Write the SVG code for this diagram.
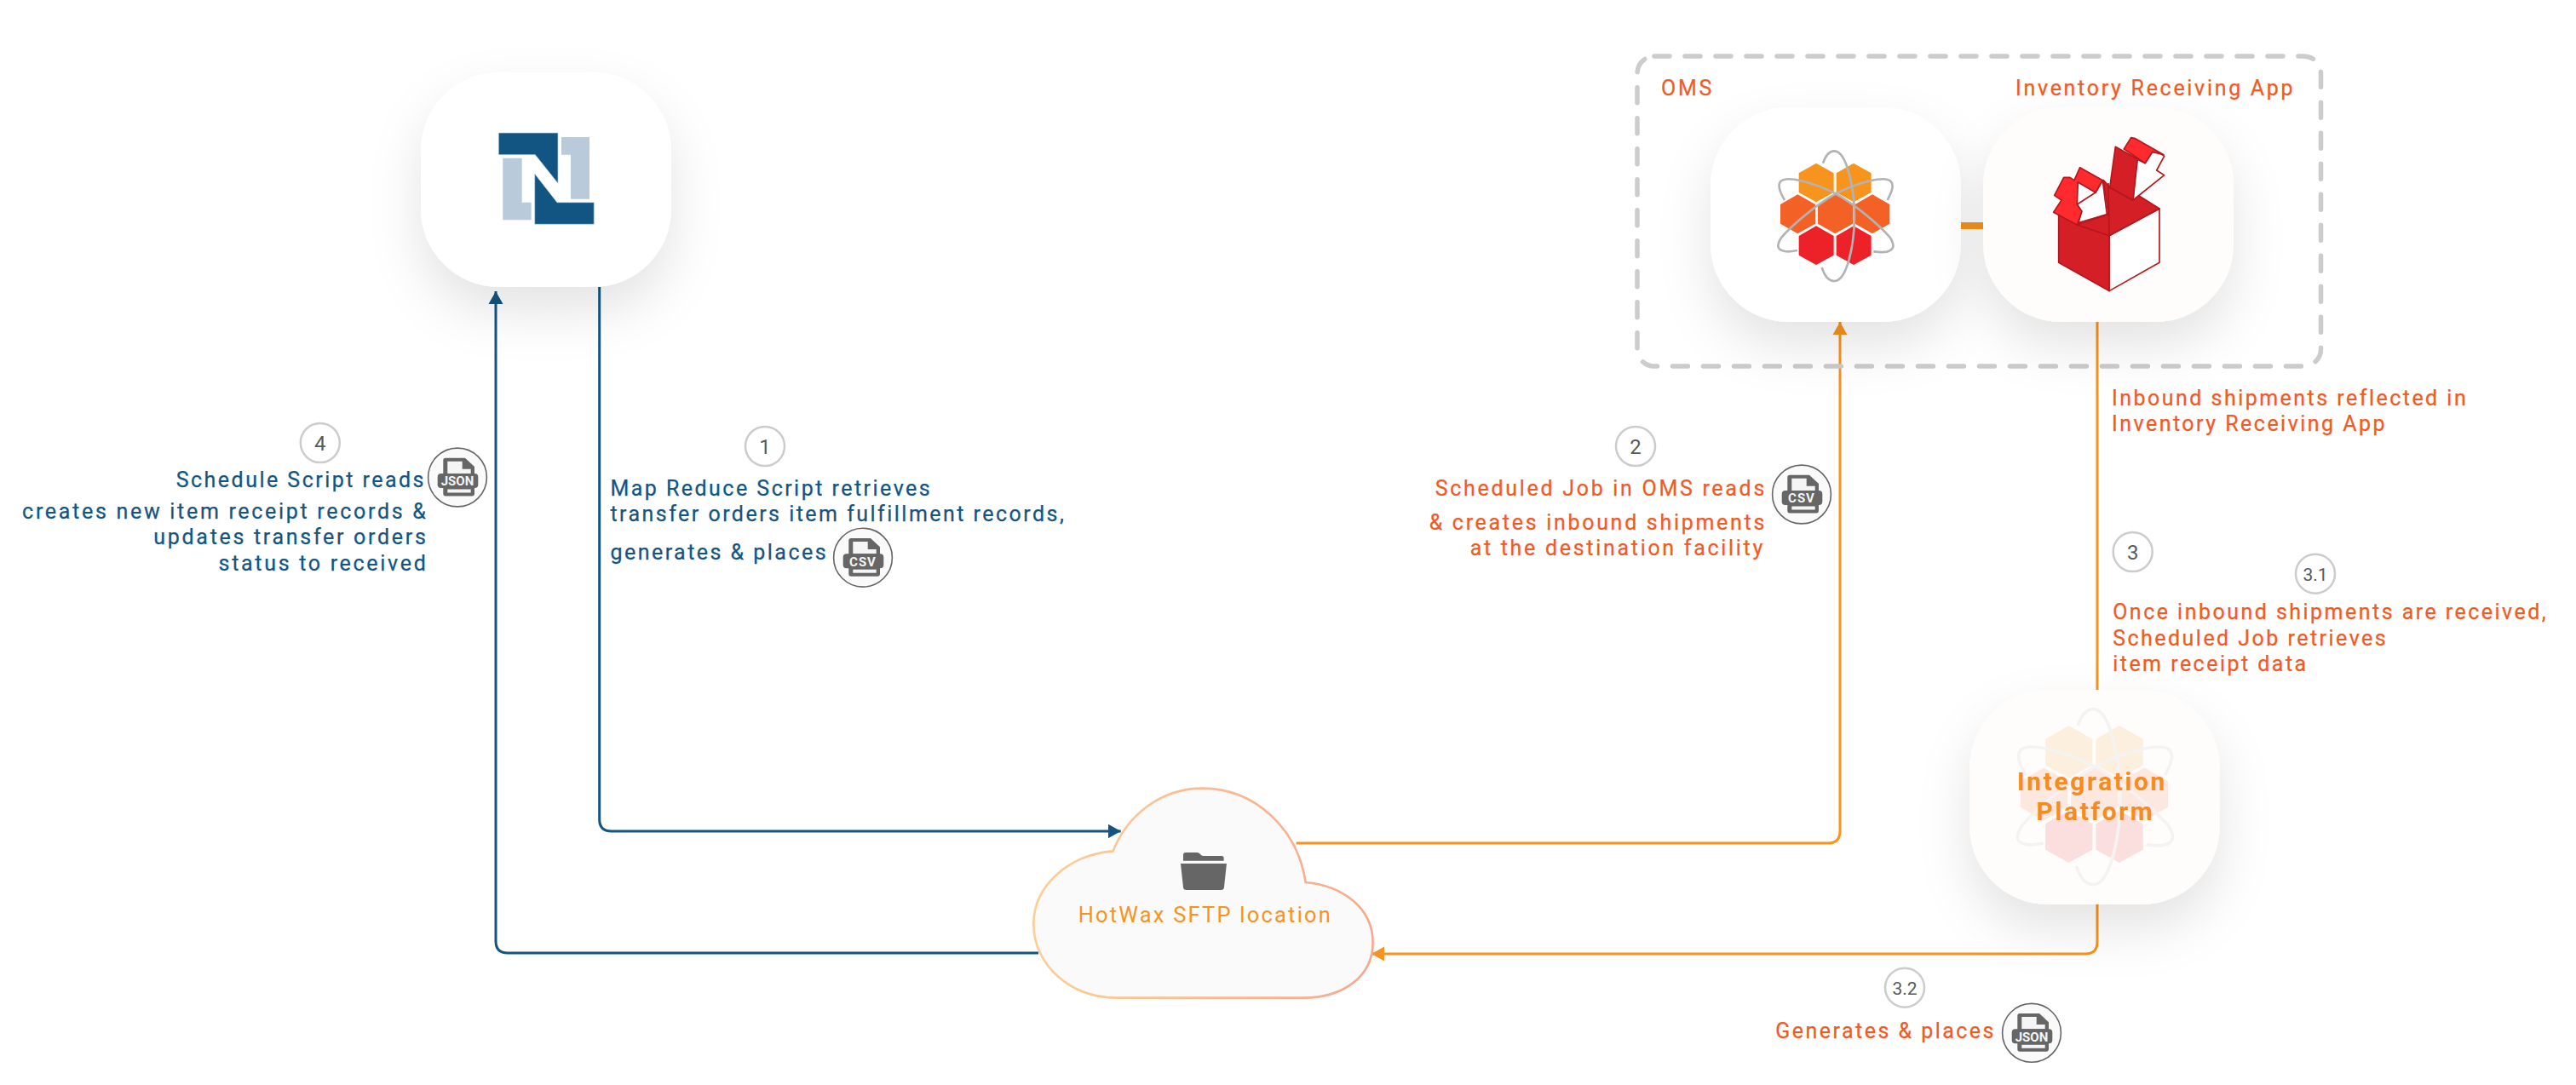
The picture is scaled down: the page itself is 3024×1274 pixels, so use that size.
<svg xmlns="http://www.w3.org/2000/svg" width="3024" height="1274" viewBox="0 0 3024 1274">
<style>
text{font-family:Roboto,"Liberation Sans",sans-serif}
.t{font-size:25px;letter-spacing:2.7px}
.l{letter-spacing:2.47px}
.b{fill:#125582;stroke:#125582;stroke-width:.25}.o{fill:#f15a24;stroke:#f15a24;stroke-width:.25}
.e{text-anchor:end}
.n{fill:#fff;stroke:#ccc;stroke-width:2.5}
.d{font-size:24px;fill:#58595b;text-anchor:middle}
.ds{font-size:21px;fill:#58595b;text-anchor:middle}
.ic{fill:#fafafa;stroke:#666;stroke-width:1.6}
.ft{font-size:15px;font-weight:700;fill:#f5f5f5;text-anchor:middle}
.con{fill:none;stroke-width:3}
.card{filter:url(#sh)}
</style>
<defs>
<filter id="sh" x="-40%" y="-40%" width="180%" height="190%"><feDropShadow dx="0" dy="28" stdDeviation="30" flood-color="#000" flood-opacity=".11"/></filter>
<linearGradient id="cg" x1="0" x2="1" y1="0" y2="0"><stop offset="0" stop-color="#fdcf96"/><stop offset="1" stop-color="#f6a88f"/></linearGradient>
<marker id="ab" markerUnits="userSpaceOnUse" markerWidth="15" markerHeight="18" refX="15" refY="9" orient="auto"><path d="M0 .5L15 9L0 17.5Z" fill="#125582"/></marker>
<marker id="ao" markerUnits="userSpaceOnUse" markerWidth="15" markerHeight="18" refX="15" refY="9" orient="auto"><path d="M0 .5L15 9L0 17.5Z" fill="#f7931e"/></marker>
<symbol id="doc" overflow="visible" viewBox="-35 -35 70 70" width="70" height="70">
<path d="M-14 -22.8H9L20 -12.5V19Q20 22 17 22H-14Q-16.7 22 -16.7 19V-20Q-16.7 -22.8 -14 -22.8Z" fill="#666"/>
<path d="M-11.7 -18.8H5.7V-9.8H15.7V-4.5H-11.7Z" fill="#f5f5f5"/>
<rect x="-23.3" y="-4.5" width="47.6" height="17" rx="4" fill="#666"/>
<rect x="-11.7" y="14" width="27.4" height="4" fill="#f5f5f5"/>
</symbol>
<g id="hexlogo">
<g transform="scale(.3333)">
<g fill="#f7941e"><path id="h1" d="M276 155L338 190V258L276 292L215 258V190Z"/><path d="M408 155L470 190V258L408 292L347 258V190Z"/></g>
<g fill="#f36127"><path d="M211 265L273 300V368L211 403L150 368V300Z"/><path d="M343 265L405 300V368L343 403L282 368V300Z"/><path d="M474 265L535 300V368L474 403L413 368V300Z"/></g>
<g fill="#ed2228"><path d="M276 376L338 411V479L276 513L215 479V411Z"/><path d="M408 376L470 411V479L408 513L347 479V411Z"/></g>
<g fill="none" stroke="#b3b3b3" stroke-width="8">
<path d="M165 285C150 260 138 235 150 220C170 195 270 225 345 262C420 305 500 375 535 415C555 445 550 460 525 467C510 470 495 468 478 466"/>
<path d="M527 285C540 260 552 235 540 220C520 195 420 225 345 262C270 305 190 375 155 415C135 445 138 460 165 465C180 468 195 465 210 462"/>
<path d="M300 155C310 125 325 112 340 112C385 112 411 250 411 340C411 440 385 570 340 570C320 570 305 550 296 522"/>
</g>
</g>
</g>
</defs>
<rect width="3024" height="1274" fill="#fff"/>

<g id="connectors">
<path class="con" stroke="#125582" marker-end="url(#ab)" d="M703.7 337V962Q703.7 976 717.7 976H1315.7"/>
<path class="con" stroke="#125582" marker-end="url(#ab)" d="M1219 1119H596Q582 1119 582 1105V342"/>
<path class="con" stroke="#f7931e" marker-end="url(#ao)" d="M1521.7 990H2146Q2160 990 2160 976V378"/>
<path class="con" stroke="#f7931e" d="M2462 378V810"/>
<path class="con" stroke="#f7931e" marker-end="url(#ao)" d="M2462 1061V1106Q2462 1120 2448 1120H1610"/>
<path fill="none" stroke="#f7931e" stroke-width="8" d="M2302 265H2328"/>
</g>

<rect id="group-box" x="1922" y="66" width="802.5" height="364" rx="20" fill="none" stroke="#ccc" stroke-width="5.5" stroke-linecap="round" stroke-dasharray="18 18"/>

<g id="netsuite">
<rect class="card" x="494" y="85" width="294" height="252" rx="92" fill="#fff"/>
<g fill="#125582" stroke="#c5d5e2" stroke-width=".7"><path d="M585.3 156H655V215.3L628.3 181.7H585.3Z"/><path d="M627.7 204L654 237.7H697.3V263.3H627.7Z"/></g>
<g fill="#b9cadb"><path d="M590.3 185.7H612.7V237.7H623.7V258.3H590.3Z"/><path d="M659 161H692V233.7H670V181.7H659Z"/></g>
</g>

<g id="oms">
<rect class="card" x="2008" y="126" width="294" height="252" rx="92" fill="#fff"/>
<use href="#hexlogo" transform="translate(2040 140)"/>
<text class="t o" x="1950" y="112">OMS</text>
</g>

<g id="inventory-app">
<rect class="card" x="2328" y="126" width="294" height="252" rx="92" fill="#fefdfb"/>
<g transform="translate(2380 140) scale(.3333)" stroke="#b5171e" stroke-width="5" stroke-linejoin="round">
<path d="M288 410L465 315V505L288 605Z" fill="#fff"/>
<path d="M110 332L288 410V605L110 505Z" fill="#d41f26"/>
<path d="M175 372L285 335L268 215L290 240L370 285L385 265L465 315L288 410Z" fill="#d41f26"/>
<path d="M180 365L280 335L265 215L240 258L175 300L190 325Z" fill="#fff"/>
<path d="M92 328L120 285L95 268L128 205L150 205L165 215L185 170L265 215L240 258L178 222L175 300L192 325L175 372Z" fill="#ff2a2e"/>
<path d="M288 408L285 225" fill="none"/>
<path d="M385 140L415 155L440 115L465 118L482 130L455 180L482 197L372 285Z" fill="#fff"/>
<path d="M310 97L388 140L372 285L290 240Z" fill="#d41f26"/>
<path d="M340 105L365 65L380 68L480 125L440 115L415 155Z" fill="#ff2a2e"/>
</g>
<text class="t o" x="2366" y="112">Inventory Receiving App</text>
</g>

<g id="integration-platform">
<rect class="card" x="2312.3" y="810" width="293.4" height="252" rx="92" fill="#fefdfb"/>
<use href="#hexlogo" opacity=".13" transform="translate(2304.3 782.2) scale(1.35)"/>
<text x="2456" y="927.7" font-size="30" font-weight="700" letter-spacing="2.6" fill="#f68b1f" text-anchor="middle">Integration</text>
<text x="2460" y="963" font-size="30" font-weight="700" letter-spacing="2.6" fill="#f68b1f" text-anchor="middle">Platform</text>
</g>

<g id="sftp">
<path transform="translate(1180 900) scale(.3333)" d="M380 298C430 170 550 77 695 77C880 77 1030 220 1058 408C1190 420 1295 500 1295 620C1295 740 1190 815 1050 815L395 815C230 815 100 700 100 555C100 420 225 310 380 298Z" fill="#fafafa" stroke="url(#cg)" stroke-width="8"/>
<g transform="translate(1180 900) scale(.3333)" fill="#666"><path d="M627 330V312Q627 303 636 303H676Q684 303 690 312L696 315H762Q770 315 770 323V332H627Z"/><path d="M618 342H780L771 425Q770 435 760 435H638Q628 435 627 425Z"/></g>
<text x="1265.7" y="1082.7" font-size="25.5" letter-spacing="2.2" fill="#f7931e">HotWax SFTP location</text>
</g>

<g id="step-1">
<circle class="n" cx="898" cy="524" r="23"/><text class="d" x="898" y="532.5">1</text>
<text class="t b l" x="716.4" y="581.7">Map Reduce Script retrieves</text>
<text class="t b l" x="716.4" y="612">transfer orders item fulfillment records,</text>
<text class="t b l" x="716.4" y="657.3">generates &amp; places</text>
<circle class="ic" cx="1013" cy="654.7" r="34.4"/><use href="#doc" x="978" y="619.7"/><text class="ft" x="1013" y="664.5" letter-spacing="1">CSV</text>
</g>
<g id="step-2">
<circle class="n" cx="1920" cy="524" r="23"/><text class="d" x="1920" y="532.5">2</text>
<text class="t o e" x="2074" y="581.7">Scheduled Job in OMS reads</text>
<text class="t o e" x="2074" y="621.7">&amp; creates inbound shipments</text>
<text class="t o e" x="2072" y="651.7">at the destination facility</text>
<circle class="ic" cx="2115" cy="580.5" r="34.4"/><use href="#doc" x="2080" y="545.5"/><text class="ft" x="2115" y="590.3" letter-spacing="1">CSV</text>
</g>
<g id="step-3">
<text class="t o l" x="2479" y="475.7">Inbound shipments reflected in</text>
<text class="t o l" x="2479" y="506">Inventory Receiving App</text>
<circle class="n" cx="2503.7" cy="648" r="23"/><text class="d" x="2503.7" y="656.5">3</text>
<circle class="n" cx="2718" cy="673.7" r="23"/><text class="ds" x="2718" y="681.5">3.1</text>
<text class="t o l" x="2480.2" y="727.3">Once inbound shipments are received,</text>
<text class="t o l" x="2480.2" y="757.7">Scheduled Job retrieves</text>
<text class="t o l" x="2480.2" y="787.7">item receipt data</text>
<circle class="n" cx="2236" cy="1159.7" r="23"/><text class="ds" x="2236" y="1167.5">3.2</text>
<text class="t o l" x="2084.3" y="1219.3">Generates &amp; places</text>
<circle class="ic" cx="2385" cy="1212.8" r="34.4"/><use href="#doc" x="2350" y="1177.8"/><text class="ft" x="2385" y="1222.6">JSON</text>
</g>
<g id="step-4">
<circle class="n" cx="375.8" cy="520" r="23"/><text class="d" x="375.8" y="528.5">4</text>
<text class="t b e l" x="500" y="571.7">Schedule Script reads</text>
<text class="t b e" x="502.5" y="609.3">creates new item receipt records &amp;</text>
<text class="t b e" x="502.5" y="639.3">updates transfer orders</text>
<text class="t b e" x="502.5" y="670">status to received</text>
<circle class="ic" cx="537" cy="560.5" r="34.4"/><use href="#doc" x="502" y="525.5"/><text class="ft" x="537" y="570.3">JSON</text>
</g>
</svg>
